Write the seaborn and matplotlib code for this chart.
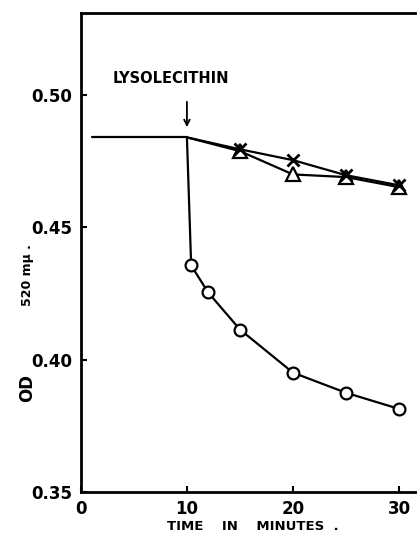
import numpy as np
import pandas as pd
import seaborn as sns
import matplotlib.pyplot as plt

# baseline before lysolecithin
base_time = [1.0, 10.0]
base_od = [0.484, 0.484]

# circles (lysolecithin added)
circle_time = [10.0, 10.4, 12.0, 15.0, 20.0, 25.0, 30.0]
circle_od = [0.484, 0.4356, 0.4254, 0.4114, 0.3951, 0.3875, 0.3814]

# crosses
cross_time = [10.0, 15.0, 20.0, 25.0, 30.0]
cross_od = [0.484, 0.4795, 0.4754, 0.4697, 0.4659]

# triangles
tri_time = [10.0, 15.0, 20.0, 25.0, 30.0]
tri_od = [0.484, 0.4788, 0.4700, 0.4690, 0.4652]

x_ticks = [0, 10, 20, 30]
y_ticks = [0.35, 0.40, 0.45, 0.50]

sns.set_style("ticks")
plt.rcParams['font.family'] = ['DejaVu Sans']
for key in ['text.color', 'axes.labelcolor', 'xtick.color', 'ytick.color', 'axes.edgecolor']:
    plt.rcParams[key] = 'black'

fig = plt.figure(figsize=(4.17, 5.35), dpi=100)
ax = fig.add_axes([0.194, 0.0804, 0.806, 0.8953])

sns.lineplot(x=base_time, y=base_od, color='black', lw=1.6, ax=ax, sort=False)
sns.lineplot(x=circle_time, y=circle_od, color='black', lw=1.6, ax=ax, sort=False,
             marker='o', markersize=8.5, markerfacecolor='white', markeredgecolor='black',
             markeredgewidth=1.6, markevery=list(range(1, len(circle_time))))
sns.lineplot(x=tri_time, y=tri_od, color='black', lw=1.6, ax=ax, sort=False,
             marker='^', markersize=9.5, markerfacecolor='white', markeredgecolor='black',
             markeredgewidth=1.6, markevery=list(range(1, len(tri_time))))
sns.lineplot(x=cross_time, y=cross_od, color='black', lw=1.6, ax=ax, sort=False,
             marker='x', markersize=9, markeredgewidth=2, markeredgecolor='black',
             markevery=list(range(1, len(cross_time))))

ax.set_xlim(0, 31.7)
ax.set_ylim(0.35, 0.531)
ax.set_xticks(x_ticks)
ax.set_xticklabels(['0', '10', '20', '30'])
ax.set_yticks(y_ticks)
ax.set_yticklabels([f'{v:.2f}' for v in y_ticks])
ax.tick_params(direction='in', length=4, width=1.5, labelsize=12, pad=6)
for lab in ax.get_xticklabels() + ax.get_yticklabels():
    lab.set_fontweight('bold')

ax.spines['right'].set_visible(False)
for s in ['left', 'bottom', 'top']:
    ax.spines[s].set_linewidth(2)

ax.annotate('', xy=(10, 0.4868), xytext=(10, 0.4985),
            arrowprops=dict(arrowstyle='->', color='black', lw=1.3))
ax.text(8.5, 0.5035, 'LYSOLECITHIN', ha='center', va='bottom', fontsize=10.5,
        fontweight='bold')

fig.text(253 / 417, 1 - 527 / 535, 'TIME    IN    MINUTES  .', ha='center', va='center',
         fontsize=9.5, fontweight='bold')
fig.text(27 / 417, 1 - 388 / 535, 'OD', rotation=90, ha='center', va='center',
         fontsize=12, fontweight='bold')
fig.text(27 / 417, 1 - 275 / 535, '520 mμ .', rotation=90, ha='center', va='center',
         fontsize=9, fontweight='bold')

fig.savefig('out.png', dpi=100)
